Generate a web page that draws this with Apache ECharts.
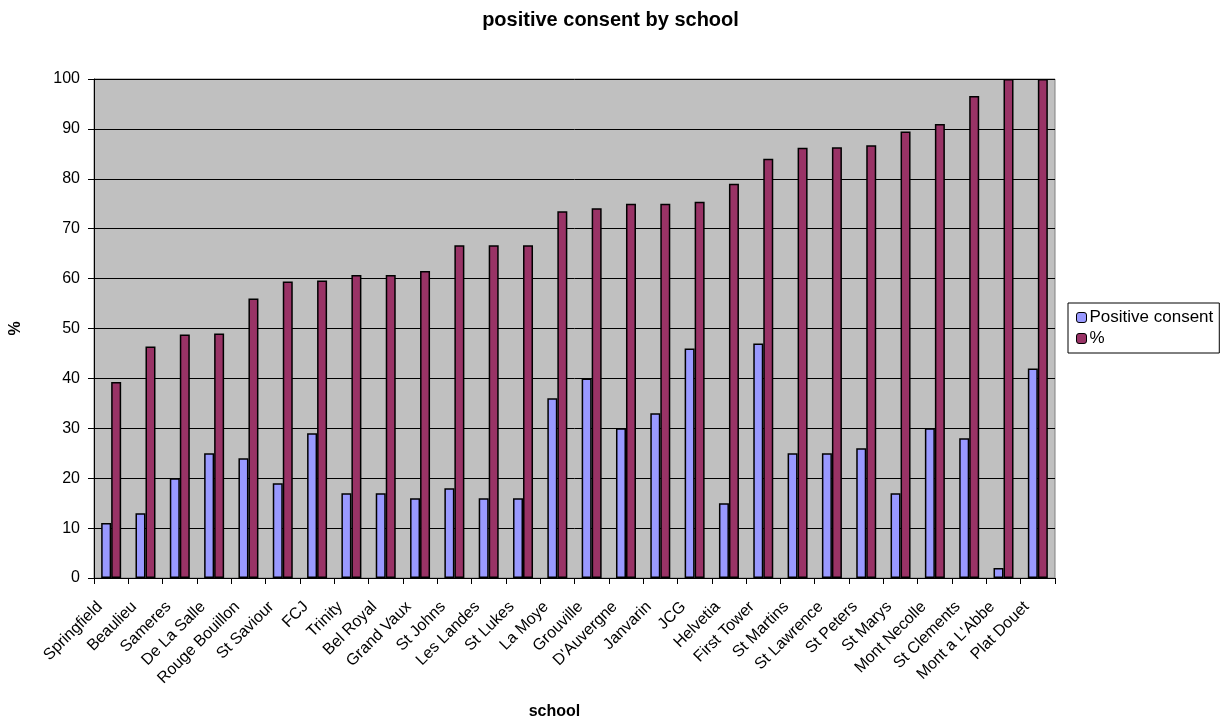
<!DOCTYPE html>
<html>
<head>
<meta charset="utf-8">
<script src="https://cdn.jsdelivr.net/npm/echarts@6/dist/echarts.min.js"></script>
<style>
  html, body { margin: 0; padding: 0; background: #fff; }
  #chart { width: 1221px; height: 719px; }
</style>
</head>
<body>
<div id="chart"></div>
<script>
// data
const schools = ["Springfield", "Beaulieu", "Sameres", "De La Salle", "Rouge Bouillon", "St Saviour", "FCJ",
  "Trinity", "Bel Royal", "Grand Vaux", "St Johns", "Les Landes", "St Lukes", "La Moye", "Grouville",
  "D'Auvergne", "Janvarin", "JCG", "Helvetia", "First Tower", "St Martins", "St Lawrence", "St Peters",
  "St Marys", "Mont Necolle", "St Clements", "Mont a L'Abbe", "Plat Douet"];
const positiveConsent = [11, 13, 20, 25, 24, 19, 29, 17, 17, 16, 18, 16, 16, 36, 40, 30, 33, 46, 15, 47,
  25, 25, 26, 17, 30, 28, 2, 42];
const percent = [39.3, 46.4, 48.8, 49.0, 56.0, 59.4, 59.6, 60.7, 60.7, 61.5, 66.7, 66.7, 66.7, 73.5, 74.1,
  75.0, 75.0, 75.4, 79.0, 84.0, 86.2, 86.3, 86.7, 89.5, 91.0, 96.6, 100, 100];

const font = "Liberation Sans, Arial, sans-serif";

const chart = echarts.init(document.getElementById("chart"));
const option = {
  animation: false,
  title: {
    text: "positive consent by school",
    left: "center",
    top: 5,
    textStyle: { fontFamily: font, fontSize: 20, fontWeight: "bold", color: "#000" }
  },
  grid: {
    left: 94, right: 166, top: 79, bottom: 141,
    outerBoundsMode: "none",
    containLabel: false,
    show: true,
    backgroundColor: "#C0C0C0",
    borderColor: "#808080",
    borderWidth: 1
  },
  legend: {
    orient: "vertical",
    left: 1068,
    top: 303,
    width: 152,
    padding: [6, 6, 6, 8],
    itemGap: 4,
    itemWidth: 10,
    itemHeight: 10,
    backgroundColor: "#fff",
    borderColor: "#000",
    borderWidth: 1,
    borderRadius: 0,
    textStyle: { fontFamily: font, fontSize: 17, color: "#000", padding: [0, 0, 0, -2] },
    data: [
      { name: "Positive consent", itemStyle: { borderColor: "#000", borderWidth: 1 } },
      { name: "%", itemStyle: { borderColor: "#000", borderWidth: 1 } }
    ]
  },
  xAxis: {
    type: "category",
    data: schools,
    name: "school",
    nameLocation: "middle",
    nameGap: 126,
    nameTextStyle: { fontFamily: font, fontSize: 16, fontWeight: "bold", color: "#000", padding: [0, 40, 0, 0] },
    axisLine: { lineStyle: { color: "#000" } },
    axisTick: { show: true, length: 6, lineStyle: { color: "#000" } },
    axisLabel: {
      interval: 0,
      rotate: 45,
      margin: 15,
      padding: [0, 16, 0, 0],
      fontFamily: font,
      fontSize: 16,
      color: "#000"
    }
  },
  yAxis: {
    type: "value",
    min: 0,
    max: 100,
    interval: 10,
    name: "%",
    nameLocation: "middle",
    nameGap: 70,
    nameTextStyle: { fontFamily: font, fontSize: 16, fontWeight: "bold", color: "#000" },
    axisLine: { show: true, lineStyle: { color: "#000" } },
    axisTick: { show: true, length: 6, lineStyle: { color: "#000" } },
    axisLabel: { fontFamily: font, fontSize: 16, color: "#000", margin: 14 },
    splitLine: { show: true, lineStyle: { color: "#000", width: 1 } }
  },
  series: [
    {
      name: "Positive consent",
      type: "bar",
      data: positiveConsent,
      barWidth: 10,
      barGap: "0%",
      itemStyle: { color: "#9999FF", borderColor: "#000", borderWidth: 1.5 }
    },
    {
      name: "%",
      type: "bar",
      data: percent,
      barWidth: 10,
      itemStyle: { color: "#993366", borderColor: "#000", borderWidth: 1.5 }
    }
  ]
};
chart.setOption(option);
</script>
</body>
</html>
